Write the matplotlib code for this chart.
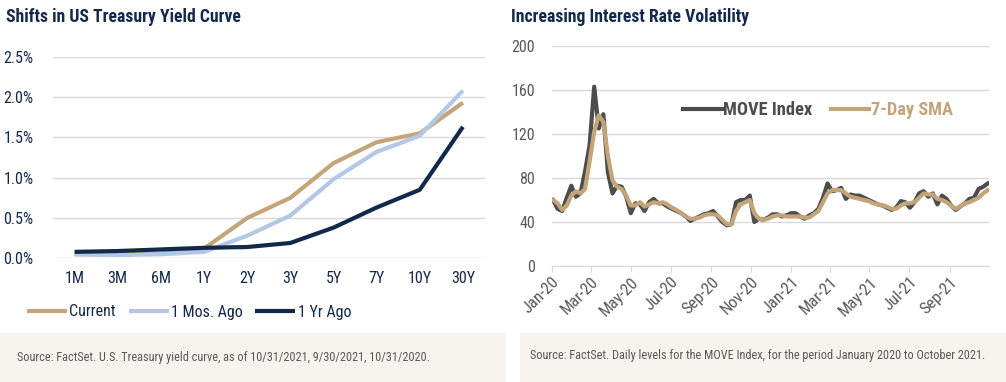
import matplotlib
matplotlib.use('Agg')
import matplotlib.pyplot as plt
import matplotlib.dates as mdates
from matplotlib import font_manager
from matplotlib.patches import Rectangle
import pandas as pd

# pick a narrow font if there is one
names = {f.name for f in font_manager.fontManager.ttflist}
FONT = 'Roboto'
for cand in ['Roboto Condensed', 'Liberation Sans Narrow', 'Roboto']:
    if cand in names:
        FONT = cand
        break
plt.rcParams['font.family'] = [FONT, 'DejaVu Sans']

NAVY = '#13294B'
TAN = '#C4A57A'
LIGHT_BLUE = '#B4C7E7'
DARK_GRAY = '#4D4D4D'
GRID = '#D9D9D9'
LABEL_GRAY = '#595959'
FOOT_BG = '#F7F4F0'

# --- yield curve data ---
tenors = ['1M', '3M', '6M', '1Y', '2Y', '3Y', '5Y', '7Y', '10Y', '30Y']
current = [0.05, 0.05, 0.06, 0.12, 0.50, 0.75, 1.18, 1.44, 1.55, 1.93]
one_month_ago = [0.05, 0.04, 0.05, 0.08, 0.28, 0.53, 0.98, 1.32, 1.52, 2.08]
one_year_ago = [0.08, 0.09, 0.11, 0.13, 0.14, 0.19, 0.38, 0.63, 0.85, 1.63]

# --- MOVE index data, weekly (Fridays) ---
move_dates = pd.date_range('2020-01-03', '2021-10-29', freq='W-FRI')
move_index = [
    60, 52, 50, 62, 73, 63, 66, 86, 110, 163,
    125, 138, 85, 66, 73, 72, 63, 48, 57, 56,
    50, 58, 61, 57, 57, 54, 52, 50, 48, 45,
    41, 43, 45, 47, 48, 50, 45, 40, 37, 38,
    58, 60, 60, 64, 40, 43, 42, 44, 47, 47,
    45, 46, 48, 48, 45, 43, 46, 48, 52, 62,
    75, 68, 69, 71, 61, 65, 64, 64, 62, 60,
    58, 56, 55, 53, 51, 53, 59, 58, 53, 58,
    66, 68, 63, 66, 56, 64, 61, 55, 51, 54,
    57, 61, 62, 70, 72, 75,
]
sma_7day = [
    60, 57, 51, 55, 64, 68, 66, 70, 95, 122,
    137, 131, 100, 78, 72, 70, 64, 55, 55, 58,
    54, 56, 58, 57, 58, 56, 53, 51, 48, 45,
    43, 43, 44, 46, 47, 47, 46, 42, 38, 38,
    50, 56, 58, 60, 48, 43, 42, 43, 45, 46,
    46, 45, 45, 45, 45, 44, 44, 47, 50, 58,
    66, 69, 69, 69, 66, 63, 62, 61, 60, 59,
    57, 56, 55, 54, 52, 52, 55, 57, 57, 58,
    62, 66, 65, 65, 61, 60, 58, 55, 52, 54,
    57, 58, 60, 62, 66, 69,
]

fig = plt.figure(figsize=(10.06, 3.82), dpi=100)

# footer boxes
fig.patches.append(Rectangle((0, 0), 505.7 / 1006, 49 / 382, transform=fig.transFigure,
                             facecolor=FOOT_BG, edgecolor='none', zorder=0))
fig.patches.append(Rectangle((520 / 1006, 0), 486 / 1006, 49 / 382, transform=fig.transFigure,
                             facecolor=FOOT_BG, edgecolor='none', zorder=0))
fig.text(17 / 1006, 1 - 358 / 382, 'Source: FactSet. U.S. Treasury yield curve, as of 10/31/2021, 9/30/2021, 10/31/2020.',
         fontsize=8.8, color=LABEL_GRAY, va='center', ha='left')
fig.text(530 / 1006, 1 - 356 / 382, 'Source: FactSet. Daily levels for the MOVE Index, for the period January 2020 to October 2021.',
         fontsize=8.8, color=LABEL_GRAY, va='center', ha='left')

# titles
fig.text(6 / 1006, 1 - 17 / 382, 'Shifts in US Treasury Yield Curve', fontsize=12.7,
         fontweight='bold', color=NAVY, va='center', ha='left')
fig.text(511 / 1006, 1 - 17 / 382, 'Increasing Interest Rate Volatility', fontsize=12.7,
         fontweight='bold', color=NAVY, va='center', ha='left')

# left chart
ax1 = fig.add_axes([53 / 1006, 1 - 258.3 / 382, 431.5 / 1006, 201.6 / 382])
x = range(len(tenors))
ax1.plot(x, current, color=TAN, lw=3, label='Current', solid_capstyle='butt')
ax1.plot(x, one_month_ago, color=LIGHT_BLUE, lw=3, label='1 Mos. Ago', solid_capstyle='butt')
ax1.plot(x, one_year_ago, color=NAVY, lw=3, label='1 Yr Ago', solid_capstyle='butt')
ax1.set_xlim(-0.5, len(tenors) - 0.5)
ax1.set_ylim(0, 2.5)
ax1.set_yticks([0, 0.5, 1.0, 1.5, 2.0, 2.5])
ax1.set_yticklabels([f'{v:.1f}%' for v in [0, 0.5, 1.0, 1.5, 2.0, 2.5]])
ax1.set_xticks(list(x))
ax1.set_xticklabels(tenors)
ax1.grid(axis='y', color=GRID, lw=1)
ax1.set_axisbelow(True)
for s in ax1.spines.values():
    s.set_visible(False)
ax1.tick_params(axis='both', length=0, labelsize=11.5, colors=NAVY)
ax1.tick_params(axis='y', pad=14)
ax1.tick_params(axis='x', pad=9)
fig.legend(handles=ax1.get_lines(), loc='center left', bbox_to_anchor=(27 / 1006, 1 - 312 / 382),
           ncol=3, frameon=False, fontsize=11.5, handlelength=2.5, handletextpad=0.15,
           columnspacing=0.8, labelcolor=NAVY, borderaxespad=0, borderpad=0)

# right chart
ax2 = fig.add_axes([551.7 / 1006, 1 - 266 / 382, 437.3 / 1006, 220 / 382])
ax2.plot(move_dates, move_index, color=DARK_GRAY, lw=3, label='MOVE Index')
ax2.plot(move_dates, sma_7day, color=TAN, lw=3, label='7-Day SMA')
ax2.set_ylim(0, 200)
ax2.set_yticks(range(0, 201, 40))
ax2.set_xlim(pd.Timestamp('2020-01-01'), pd.Timestamp('2021-10-31'))
ax2.xaxis.set_major_locator(mdates.MonthLocator(bymonth=[1, 3, 5, 7, 9, 11]))
ax2.xaxis.set_major_formatter(mdates.DateFormatter('%b-%y'))
ax2.grid(axis='y', color=GRID, lw=1)
ax2.set_axisbelow(True)
for k in ['top', 'right', 'left']:
    ax2.spines[k].set_visible(False)
ax2.spines['bottom'].set_color(GRID)
ax2.tick_params(axis='y', length=0, labelsize=11.5, colors=LABEL_GRAY, pad=12)
ax2.tick_params(axis='x', length=4, color=GRID, labelsize=12, labelcolor=LABEL_GRAY, pad=2)
for lbl in ax2.get_xticklabels():
    lbl.set_rotation(45)
    lbl.set_ha('right')
    lbl.set_rotation_mode('anchor')
leg = ax2.legend(loc='center left', bbox_to_anchor=((683 - 551.7) / 437.3, (266 - 110) / 220),
                 ncol=2, frameon=False, handlelength=2.1, handletextpad=0.1,
                 columnspacing=1.0, borderaxespad=0, borderpad=0, prop={'weight': 'bold', 'size': 13.2})
for t, c in zip(leg.get_texts(), [DARK_GRAY, TAN]):
    t.set_color(c)

fig.savefig('out.png', dpi=100)
